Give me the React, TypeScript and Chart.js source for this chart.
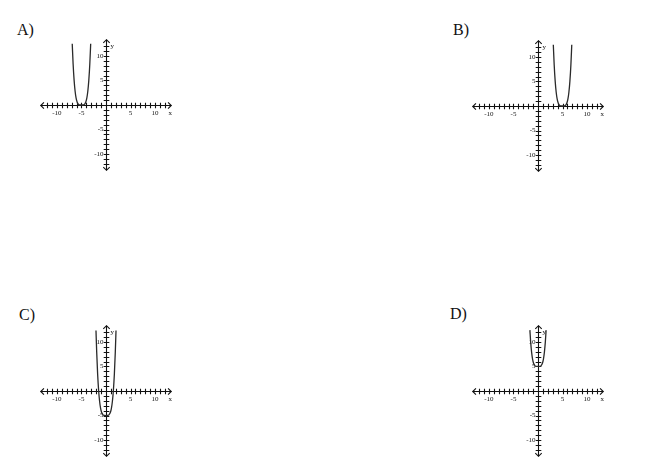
import React, { useEffect, useRef } from "react";
import { Chart, registerables } from "chart.js";

Chart.register(...registerables);

// ---- data ----
const panelLetters = ["A)", "B)", "C)", "D)"];
const tickLabelValues = [-10, -5, 5, 10];
const minorTickValues = [-12, -11, -10, -9, -8, -7, -6, -5, -4, -3, -2, -1, 1, 2, 3, 4, 5, 6, 7, 8, 9, 10, 11, 12];
const axisExtent = 13.3;
const axisMin = -16.3;
const axisMax = 16.3;

const curveAX = [-6.88, -6.7, -6.5, -6.3, -6.1, -5.9, -5.7, -5.5, -5.25, -5, -4.75, -4.5, -4.3, -4.1, -3.9, -3.7, -3.5, -3.3, -3.12];
const curveAY = [12.49, 8.35, 5.06, 2.86, 1.46, 0.66, 0.24, 0.06, 0.0, 0, 0.0, 0.06, 0.24, 0.66, 1.46, 2.86, 5.06, 8.35, 12.49];

const curveBX = [3.12, 3.3, 3.5, 3.7, 3.9, 4.1, 4.3, 4.5, 4.75, 5, 5.25, 5.5, 5.7, 5.9, 6.1, 6.3, 6.5, 6.7, 6.88];
const curveBY = [12.49, 8.35, 5.06, 2.86, 1.46, 0.66, 0.24, 0.06, 0.0, 0, 0.0, 0.06, 0.24, 0.66, 1.46, 2.86, 5.06, 8.35, 12.49];

const curveCX = [-2.04, -1.9, -1.7, -1.5, -1.3, -1.1, -0.9, -0.6, -0.3, 0, 0.3, 0.6, 0.9, 1.1, 1.3, 1.5, 1.7, 1.9, 2.04];
const curveCY = [12.32, 8.03, 3.35, 0.06, -2.14, -3.54, -4.34, -4.87, -4.99, -5, -4.99, -4.87, -4.34, -3.54, -2.14, 0.06, 3.35, 8.03, 12.32];

const curveDX = [-1.65, -1.5, -1.3, -1.1, -0.9, -0.6, -0.3, 0, 0.3, 0.6, 0.9, 1.1, 1.3, 1.5, 1.65];
const curveDY = [12.41, 10.06, 7.86, 6.46, 5.66, 5.13, 5.01, 5, 5.01, 5.13, 5.66, 6.46, 7.86, 10.06, 12.41];

const curvesX = [curveAX, curveBX, curveCX, curveDX];
const curvesY = [curveAY, curveBY, curveCY, curveDY];

// ---- layout ----
const CANVAS = 160;
const panelCenters = [
  [106.3, 105.3],
  [537.8, 105.5],
  [105.8, 390.8],
  [538.2, 390.8],
];
const letterPos = [
  [17, 22],
  [453, 22],
  [19, 307],
  [450, 306],
];

const axesPlugin = {
  id: "crossAxes",
  beforeDatasetsDraw(chart: any) {
    const { ctx } = chart;
    const xs = chart.scales.x;
    const ys = chart.scales.y;
    const px = (v: number) => xs.getPixelForValue(v);
    const py = (v: number) => ys.getPixelForValue(v);
    const x0 = Math.round(px(0)) + 0.5;
    const y0 = Math.round(py(0)) + 0.5;
    ctx.save();
    ctx.strokeStyle = "#111";
    ctx.fillStyle = "#111";
    ctx.lineWidth = 1.1;
    // axis lines
    ctx.beginPath();
    ctx.moveTo(px(-axisExtent), y0);
    ctx.lineTo(px(axisExtent), y0);
    ctx.moveTo(x0, py(axisExtent));
    ctx.lineTo(x0, py(-axisExtent));
    ctx.stroke();
    // arrows
    const a = 3.2;
    ctx.beginPath();
    const l = px(-axisExtent), r = px(axisExtent), t = py(axisExtent), b = py(-axisExtent);
    ctx.moveTo(l + a, y0 - a); ctx.lineTo(l, y0); ctx.lineTo(l + a, y0 + a);
    ctx.moveTo(r - a, y0 - a); ctx.lineTo(r, y0); ctx.lineTo(r - a, y0 + a);
    ctx.moveTo(x0 - a, t + a); ctx.lineTo(x0, t); ctx.lineTo(x0 + a, t + a);
    ctx.moveTo(x0 - a, b - a); ctx.lineTo(x0, b); ctx.lineTo(x0 + a, b - a);
    ctx.stroke();
    // ticks
    const h = 2.8;
    ctx.beginPath();
    minorTickValues.forEach((v) => {
      const tx = Math.round(px(v)) + 0.5;
      ctx.moveTo(tx, y0 - h); ctx.lineTo(tx, y0 + h);
      const ty = Math.round(py(v)) + 0.5;
      ctx.moveTo(x0 - h, ty); ctx.lineTo(x0 + h, ty);
    });
    ctx.stroke();
    // tick labels
    ctx.font = "7px 'Liberation Serif', serif";
    ctx.textAlign = "center";
    ctx.textBaseline = "middle";
    tickLabelValues.forEach((v) => {
      ctx.fillText(String(v), px(v), y0 + 8);
    });
    ctx.textAlign = "right";
    tickLabelValues.forEach((v) => {
      ctx.fillText(String(v), x0 - 3, py(v));
    });
    ctx.textAlign = "center";
    ctx.fillText("x", px(axisExtent) - 1, y0 + 8);
    ctx.textAlign = "left";
    ctx.font = "7px 'Liberation Serif', serif";
    ctx.fillText("y", x0 + 4, py(12));
    ctx.restore();
  },
};

function Panel({ index }: { index: number }) {
  const ref = useRef<HTMLCanvasElement | null>(null);
  useEffect(() => {
    if (!ref.current) return;
    const xsArr = curvesX[index];
    const ysArr = curvesY[index];
    const chart = new Chart(ref.current, {
      type: "line",
      data: {
        datasets: [
          {
            data: xsArr.map((x, i) => ({ x, y: ysArr[i] })),
            borderColor: "#2a2a2a",
            borderWidth: 1.3,
            pointRadius: 0,
            fill: false,
            cubicInterpolationMode: "monotone",
          },
        ],
      },
      options: {
        responsive: false,
        animation: false,
        devicePixelRatio: 1,
        layout: { padding: 0 },
        plugins: { legend: { display: false }, tooltip: { enabled: false }, title: { display: false } },
        scales: {
          x: { type: "linear", min: axisMin, max: axisMax, display: false },
          y: { type: "linear", min: axisMin, max: axisMax, display: false },
        },
      },
      plugins: [axesPlugin],
    } as any);
    return () => chart.destroy();
  }, [index]);
  const [cx, cy] = panelCenters[index];
  return (
    <canvas
      ref={ref}
      width={CANVAS}
      height={CANVAS}
      style={{ position: "absolute", left: cx - CANVAS / 2, top: cy - CANVAS / 2, width: CANVAS, height: CANVAS }}
    />
  );
}

export default function App() {
  return (
    <div style={{ position: "fixed", left: 0, top: 0, width: 650, height: 474, background: "#fff", overflow: "hidden" }}>
      {panelLetters.map((t, i) => (
        <div
          key={t}
          style={{
            position: "absolute",
            left: letterPos[i][0],
            top: letterPos[i][1],
            font: "16px 'Liberation Serif', serif",
            lineHeight: "16px",
            color: "#111",
          }}
        >
          {t}
        </div>
      ))}
      {[0, 1, 2, 3].map((i) => (
        <Panel key={i} index={i} />
      ))}
    </div>
  );
}
